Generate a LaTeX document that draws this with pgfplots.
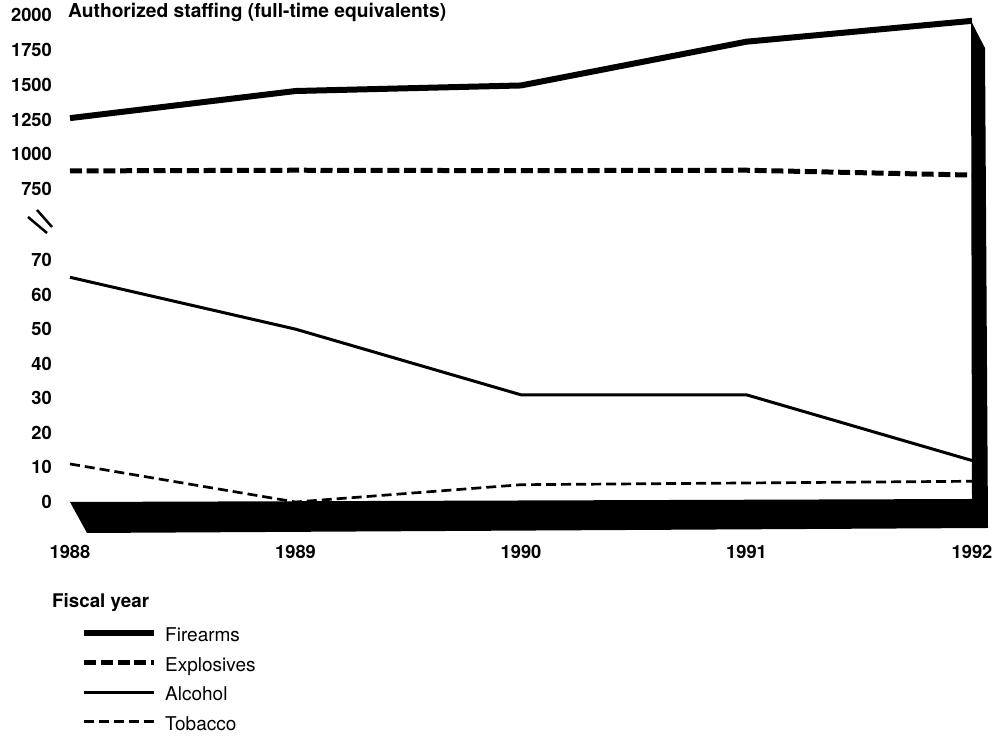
\documentclass[border=0pt]{standalone}
\usepackage{fontspec}
\setmainfont{TeX Gyre Heros}
\usepackage{pgfplots}
\pgfplotsset{compat=1.18}
\begin{document}
\begin{tikzpicture}
\path[use as bounding box] (0pt,0pt) rectangle (999pt,743pt);
\pgfplotsset{
  base/.style={
    scale only axis, width=902pt, xmin=1988, xmax=1992,
    axis line style={draw=none}, major tick length=0pt,
    tick label style={font=\fontsize{18.3}{20}\selectfont\bfseries},
    yticklabel style={anchor=east, inner sep=0pt, xshift=-18pt},
    /pgf/number format/assume math mode=true,
    clip=false,
  },
  legend image code/.code={\draw[#1] (0pt,4pt) -- (70pt,4pt);},
}
\begin{axis}[base, at={(70pt,554pt)}, anchor=south west, height=173.7pt,
  ymin=750, ymax=2000, ytick={750,1000,1250,1500,1750,2000},
  yticklabels={750,1000,1250,1500,1750,2000}, xtick=\empty]
\addplot[line width=6pt] coordinates {(1988,1260) (1989,1455) (1990,1495) (1991,1810) (1992,1960)};
\addplot[line width=5pt, dash pattern=on 12pt off 4.7pt] coordinates {(1988,880) (1989,885) (1990,882) (1991,885) (1992,850)};
\node[anchor=base west, inner sep=0pt, yshift=-2.7pt, font=\fontsize{19.2}{21}\selectfont\bfseries] at (rel axis cs:-0.0022,1) {Authorized staffing (full-time equivalents)};
\end{axis}
\begin{axis}[base, at={(70pt,241pt)}, anchor=south west, height=242pt,
  ymin=0, ymax=70, ytick={0,10,20,30,40,50,60,70},
  yticklabels={0,10,20,30,40,50,60,70},
  xtick={1988,1989,1990,1991,1992}, xticklabels={1988,1989,1990,1991,1992},
  xticklabel style={anchor=center, yshift=-50pt},
  xlabel={Fiscal year},
  xlabel style={at={(axis description cs:-0.02,-0.4174)}, anchor=west, inner sep=0pt, font=\fontsize{18.8}{20}\selectfont\bfseries},
  legend cell align=left,
  legend style={at={(axis description cs:0.0089,-0.5145)}, anchor=north west, draw=none, fill=none,
    font=\fontsize{19}{20}\selectfont, row sep=12.5pt, column sep=8pt,
    nodes={inner sep=0pt, text height=13pt, text depth=4pt}},
]
\addlegendimage{line width=6pt}\addlegendentry{Firearms}
\addlegendimage{line width=5pt, dash pattern=on 12pt off 4.7pt}\addlegendentry{Explosives}
\addplot[line width=3pt] coordinates {(1988,65) (1989,50) (1990,31) (1991,31) (1992,12)};
\addlegendentry{Alcohol}
\addplot[line width=2.7pt, dash pattern=on 10pt off 5pt] coordinates {(1988,11) (1989,0) (1990,5) (1991,5.5) (1992,6)};
\addlegendentry{Tobacco}
\end{axis}
\fill[black] (70pt,241pt) -- (972pt,244pt) -- (971pt,722pt) -- (985pt,695pt) -- (988pt,215pt) -- (87pt,210pt) -- cycle;
\draw[line width=2.5pt] (28pt,526pt) -- (47pt,510pt);
\draw[line width=2.5pt] (37pt,533pt) -- (52pt,516pt);
\end{tikzpicture}
\end{document}
